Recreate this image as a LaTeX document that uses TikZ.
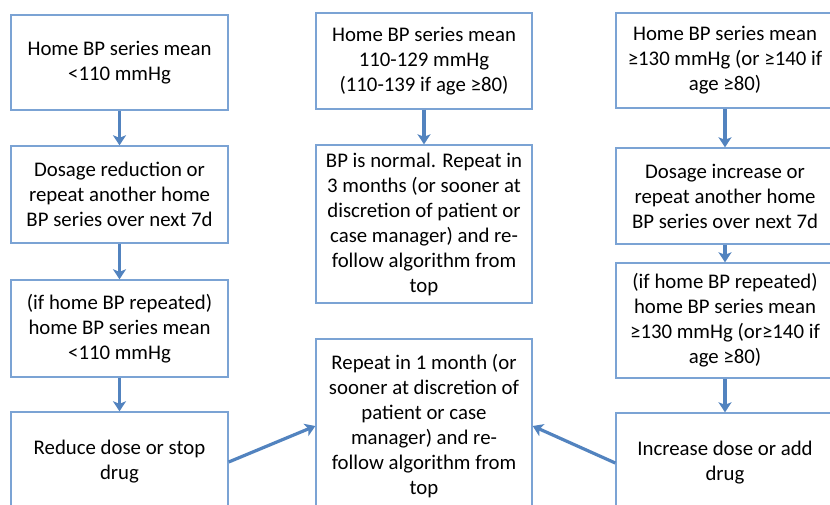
\documentclass[tikz,border=0pt]{standalone}
\usepackage{fontspec}
\setmainfont{Carlito}
\usetikzlibrary{arrows.meta}
\definecolor{boxblue}{HTML}{7BA3D4}
\definecolor{arrowblue}{HTML}{5283BF}
\begin{document}
\begin{tikzpicture}[x=1pt,y=-1pt,
  box/.style={draw=boxblue,line width=1.4pt,fill=white,inner sep=0pt,align=center,
    font=\fontsize{20.8}{25}\selectfont,text=black},
  flow/.style={draw=arrowblue,line width=3.2pt,-{Stealth[length=10pt,width=13pt,inset=2.5pt]}}]
\useasboundingbox (0,0) rectangle (830,504);
\clip (0,0) rectangle (830,504);
\fill[white] (0,0) rectangle (830,504);
% left column
\node[box,minimum width=217pt,minimum height=95pt] (L1) at (119.5,62.5) {Home BP series mean\\<110 mmHg};
\node[box,minimum width=217pt,minimum height=97pt] (L2) at (119.5,194.5) {Dosage reduction or\\repeat another home\\BP series over next 7d};
\node[box,minimum width=217pt,minimum height=97pt] (L3) at (119.5,328.5) {(if home BP repeated)\\home BP series mean\\<110 mmHg};
\node[box,minimum width=217pt,minimum height=100pt] (L4) at (119.5,462) {Reduce dose or stop\\drug};
% middle column
\node[box,minimum width=216pt,minimum height=96pt] (M1) at (424,61) {Home BP series mean\\110-129 mmHg\\(110-139 if age ≥80)};
\node[box,minimum width=216pt,minimum height=158pt] (M2) at (424,224) {BP is normal. Repeat in\\3 months (or sooner at\\discretion of patient or\\case manager) and re-\\follow algorithm from\\top};
\node[box,minimum width=216pt,minimum height=174pt] (M3) at (424,426) {Repeat in 1 month (or\\sooner at discretion of\\patient or case\\manager) and re-\\follow algorithm from\\top};
% right column
\node[box,minimum width=218pt,minimum height=95pt] (R1) at (725,60.5) {Home BP series mean\\≥130 mmHg (or ≥140 if\\age ≥80)};
\node[box,minimum width=218pt,minimum height=96pt] (R2) at (725,196) {Dosage increase or\\repeat another home\\BP series over next 7d};
\node[box,minimum width=218pt,minimum height=115pt] (R3) at (725,320.5) {(if home BP repeated)\\home BP series mean\\≥130 mmHg (or≥140 if\\age ≥80)};
\node[box,minimum width=218pt,minimum height=100pt] (R4) at (725,463) {Increase dose or add\\drug};
% connectors
\draw[flow] (L1) -- (L2);
\draw[flow] (L2) -- (L3);
\draw[flow] (L3) -- (L4);
\draw[flow] (M1) -- (M2);
\draw[flow] (R1) -- (R2);
\draw[flow] (R2) -- (R3);
\draw[flow] (R3) -- (R4);
\draw[flow] (L4.east) -- (M3.west);
\draw[flow] (R4.west) -- (M3.east);
\end{tikzpicture}
\end{document}
